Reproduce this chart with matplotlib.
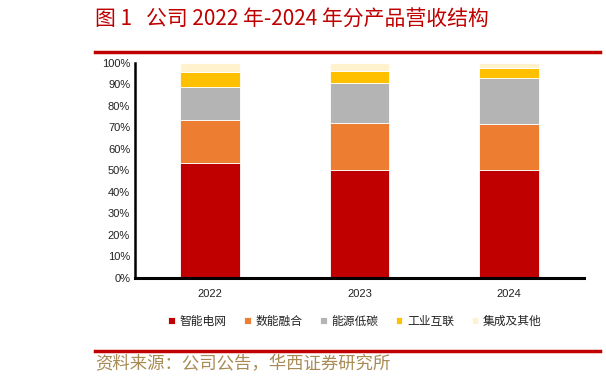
import numpy as np
import matplotlib.pyplot as plt
from matplotlib.ticker import PercentFormatter

plt.rcParams['font.family'] = ['Noto Sans CJK SC', 'DejaVu Sans']

# data (share of revenue, %)
years = ['2022', '2023', '2024']
categories = ['智能电网', '数能融合', '能源低碳', '工业互联', '集成及其他']
smart_grid = [53.6, 49.9, 50.0]
digital_energy = [19.6, 21.9, 21.4]
low_carbon = [15.4, 18.9, 21.4]
industrial_iot = [7.0, 5.8, 5.1]
others = [4.4, 3.5, 2.1]
series = [smart_grid, digital_energy, low_carbon, industrial_iot, others]
colors = ['#C00000', '#ED7D31', '#B4B4B4', '#FFC000', '#FFF2CC']

fig = plt.figure(figsize=(6.06, 3.82), dpi=100)
ax = fig.add_axes([135 / 606, 1 - 277.5 / 382, 449 / 606, 214.5 / 382])

x = np.arange(len(years))
bottom = np.zeros(len(years))
for vals, name, c in zip(series, categories, colors):
    ax.bar(x, vals, 0.4, bottom=bottom, color=c, label=name,
           edgecolor='white', linewidth=0.6)
    bottom += np.array(vals)

ax.set_xlim(-0.5, 2.5)
ax.set_ylim(0, 100)
ax.set_yticks(np.arange(0, 101, 10))
ax.yaxis.set_major_formatter(PercentFormatter(decimals=0))
ax.set_xticks(x)
ax.set_xticklabels(years)
ax.tick_params(axis='both', length=0, labelsize=8, colors='#222222')
ax.tick_params(axis='x', pad=8)
for lab in ax.get_xticklabels() + ax.get_yticklabels():
    lab.set_family(['Liberation Sans', 'DejaVu Sans'])
for s in ['top', 'right']:
    ax.spines[s].set_visible(False)
ax.spines['left'].set_linewidth(1.8)
ax.spines['bottom'].set_linewidth(2.2)

leg = fig.legend(loc='center', bbox_to_anchor=(355 / 606, 1 - 321 / 382), ncol=5,
                 frameon=False, fontsize=8.5, handlelength=0.55, handleheight=0.55,
                 handletextpad=0.4, columnspacing=1.5)
for t in leg.get_texts():
    t.set_color('#222222')
    t.set_fontweight('light')

# title and decorations
fig.text(95 / 606, 1 - 20 / 382, '图 1   公司 2022 年-2024 年分产品营收结构',
         color='#C00000', fontsize=15, fontweight='light', va='center', ha='left')
fig.add_artist(plt.Line2D([95 / 606, 600 / 606], [1 - 52 / 382] * 2,
                          color='#C00000', linewidth=2.5))
fig.add_artist(plt.Line2D([95 / 606, 600 / 606], [1 - 351 / 382] * 2,
                          color='#C00000', linewidth=2.5))
fig.text(95 / 606, 1 - 364 / 382, '资料来源：公司公告，华西证券研究所',
         color='#A88A55', fontsize=12.5, fontweight='light', va='center', ha='left')

fig.savefig('out.png', dpi=100)
